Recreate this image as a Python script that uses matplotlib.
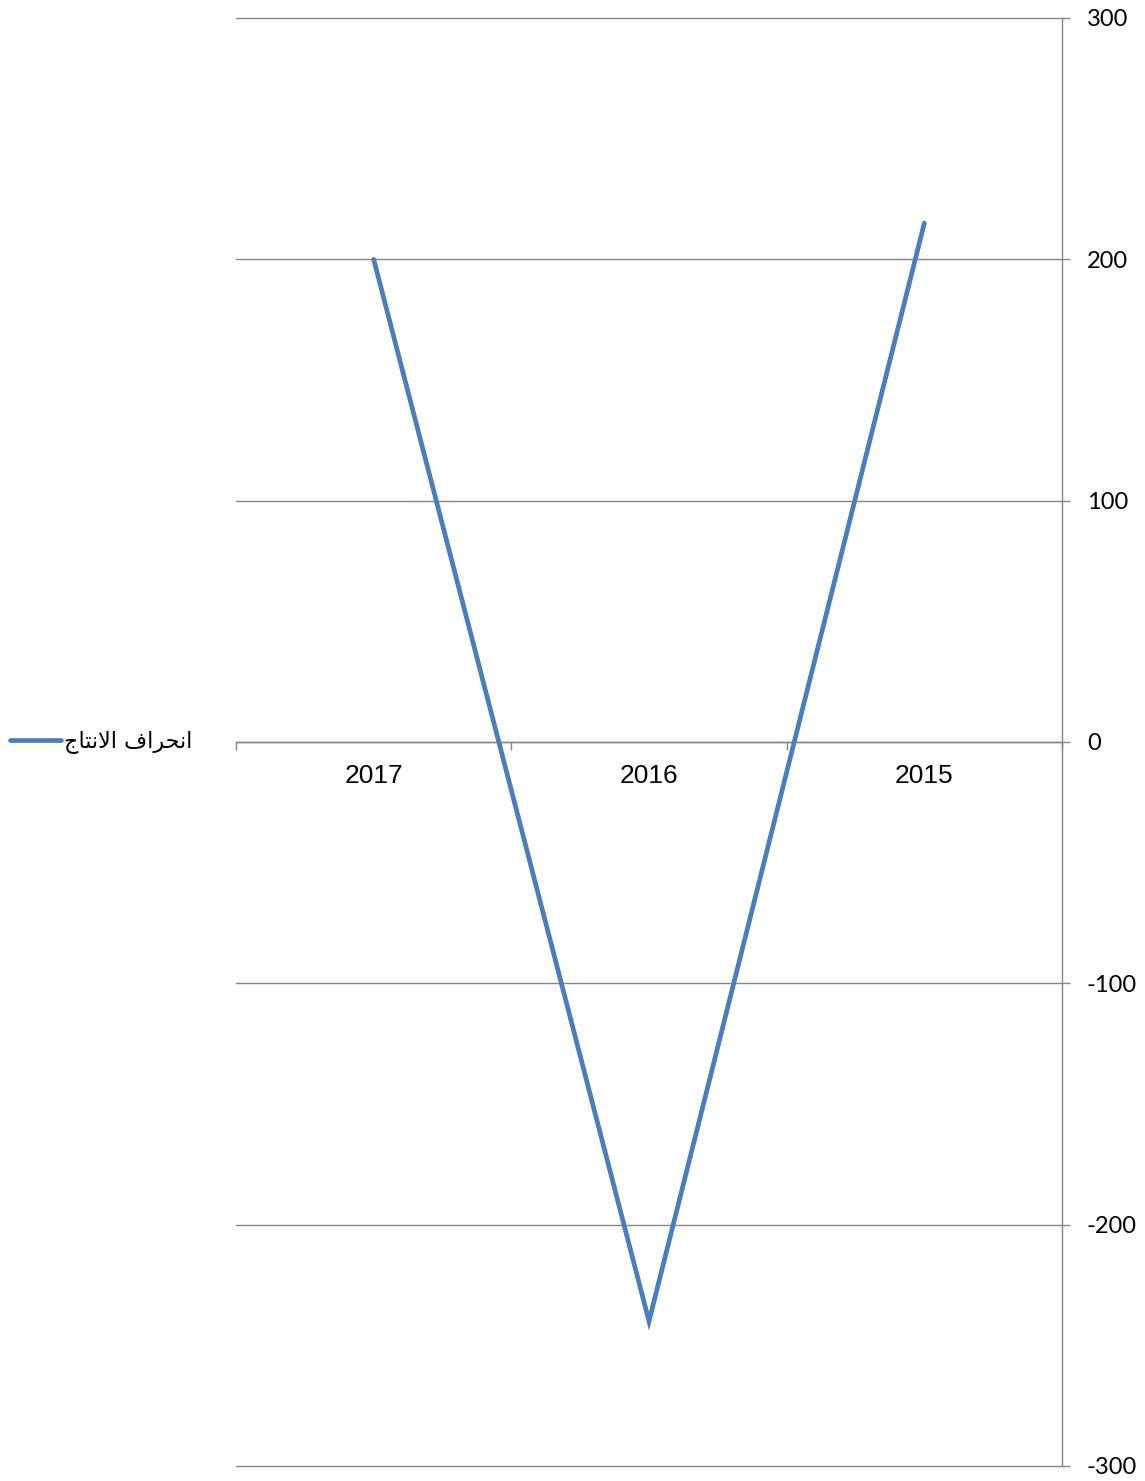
import matplotlib
matplotlib.use('Agg')
import matplotlib.pyplot as plt

years = ['2017', '2016', '2015']
deviation = [200, -240, 215]
y_ticks = [-300, -200, -100, 0, 100, 200, 300]
# "انحراف الانتاج" written with Arabic presentation forms in display order,
# since matplotlib does no shaping or bidi
series_name = '\ufe9d\ufe8e\ufe98\ufee7\ufefb\ufe8d \ufed1\ufe8d\ufeae\ufea4\ufee7\ufe8d'

grid_col = '#868686'
line_col = '#4A7EBB'

fig = plt.figure(figsize=(11.45, 14.81), dpi=100)
W, H = 1145, 1481
ax = fig.add_axes([236 / W, (1481 - 1466) / H, (1062 - 236) / W, (1466 - 18) / H])

x = list(range(len(years)))
ax.plot(x, deviation, color=line_col, lw=3.4, solid_capstyle='round',
        solid_joinstyle='miter', label=series_name, zorder=3)

ax.set_xlim(-0.5, len(years) - 0.5)
ax.set_ylim(-300, 300)

# value axis on the right
ax.yaxis.tick_right()
ax.set_yticks(y_ticks)
ax.set_yticklabels([str(v) for v in y_ticks], fontfamily='Lato', fontsize=17)
ax.tick_params(axis='y', which='major', length=6, width=1, color=grid_col, pad=12)
ax.grid(axis='y', color=grid_col, lw=1.0, zorder=0)
for gl in ax.get_ygridlines():
    gl.set_clip_on(False)

for s in ['left', 'top']:
    ax.spines[s].set_visible(False)
ax.spines['right'].set_color(grid_col)
ax.spines['right'].set_linewidth(1.0)

# category axis crosses at zero
ax.spines['bottom'].set_position(('data', 0))
ax.spines['bottom'].set_color(grid_col)
ax.spines['bottom'].set_linewidth(1.0)
ax.set_xticks(x)
ax.set_xticklabels(years, fontfamily='Liberation Sans', fontsize=19)
ax.set_xticks([i - 0.5 for i in range(len(years) + 1)], minor=True)
ax.tick_params(axis='x', which='major', length=0, pad=16)
ax.tick_params(axis='x', which='minor', length=6, width=1, color=grid_col, direction='out')

leg = ax.legend(loc='center left', bbox_to_anchor=(10 / W, 1 - 742 / H),
                bbox_transform=fig.transFigure, frameon=False, borderpad=0,
                borderaxespad=0, handlelength=2.3, handletextpad=0.15,
                prop={'family': 'DejaVu Sans', 'size': 16})

fig.savefig('out.png', dpi=100)
